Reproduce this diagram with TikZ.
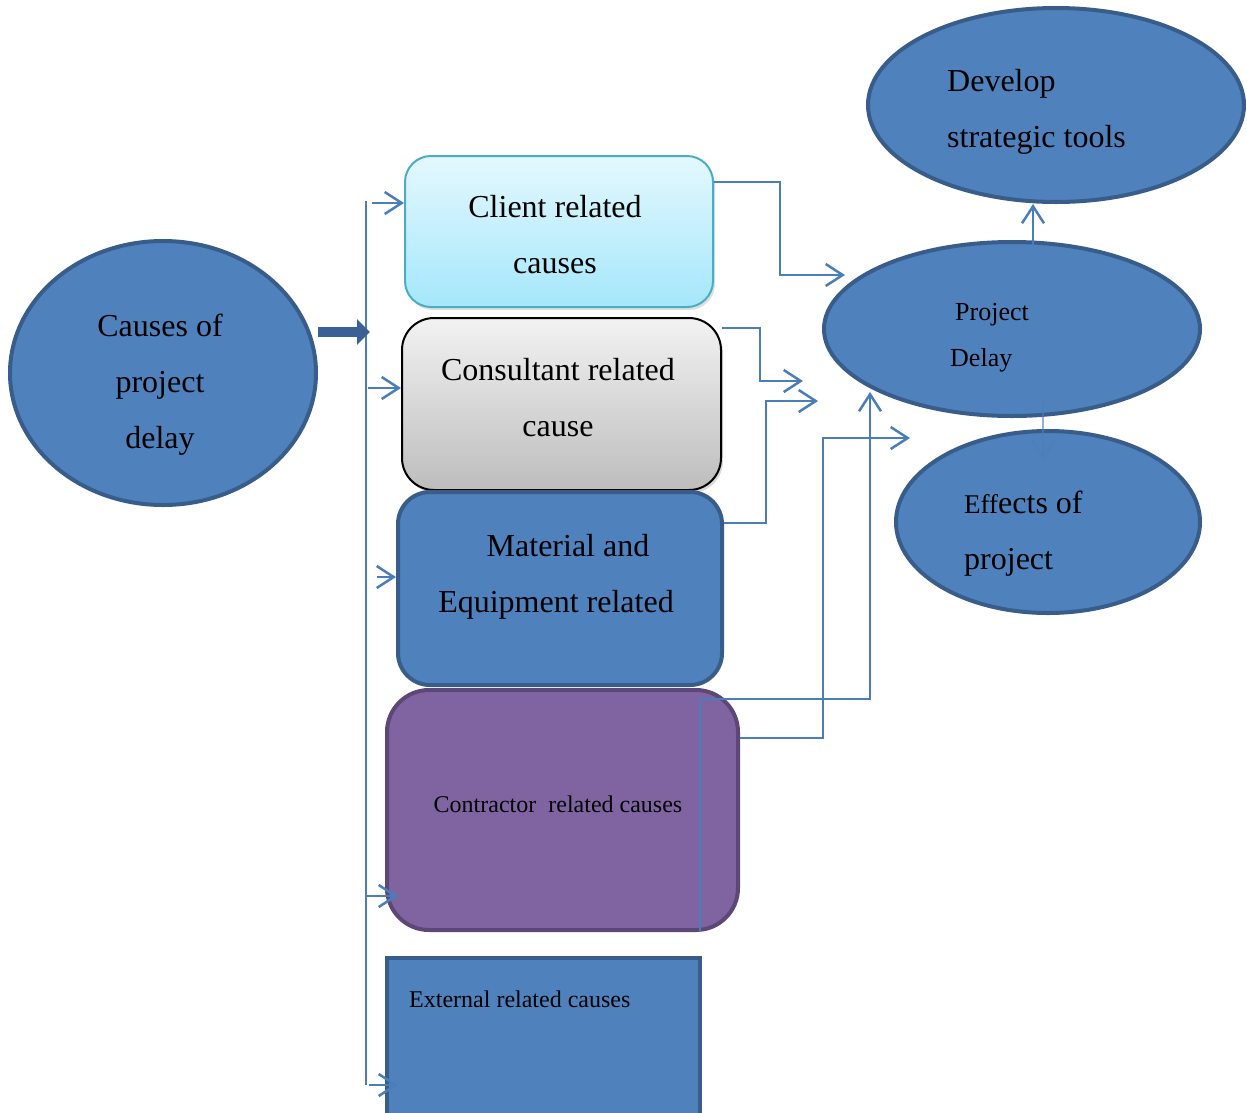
\documentclass[tikz,border=0pt]{standalone}
\usepackage{fontspec}
\setmainfont{Liberation Serif}
\usetikzlibrary{shapes.geometric,arrows.meta,shadows}
\definecolor{bfill}{HTML}{4F81BD}
\definecolor{bdraw}{HTML}{385D8A}
\definecolor{connc}{HTML}{4A7EBB}
\definecolor{pfill}{HTML}{8064A2}
\definecolor{pdraw}{HTML}{5C4776}
\definecolor{ctop}{HTML}{E4F8FE}
\definecolor{cbot}{HTML}{A5E7FB}
\definecolor{cdraw}{HTML}{4BACC6}
\definecolor{gtop}{HTML}{F2F2F2}
\definecolor{gbot}{HTML}{BDBDBD}
\definecolor{thickc}{HTML}{3A6096}
\begin{document}
\begin{tikzpicture}[x=1pt,y=-1pt,
  oval/.style={ellipse, draw=bdraw, fill=bfill, line width=4pt, inner sep=0pt},
  boxshape/.style={rectangle, inner sep=0pt},
  bigtxt/.style={inner sep=0pt, font=\fontsize{32}{56}\selectfont},
  midtxt/.style={inner sep=0pt, font=\fontsize{26}{46}\selectfont},
  smalltxt/.style={inner sep=0pt, font=\fontsize{24}{30}\selectfont},
  conn/.style={draw=connc, line width=2.5pt, -{Straight Barb[length=17pt,width=22pt,line width=2.5pt]}},
  busline/.style={draw=connc, line width=2.5pt},
  thickarrow/.style={draw=thickc, line width=10pt, -{Triangle[length=13pt,width=25pt]}}]
\useasboundingbox (0,0) rectangle (1247,1112);
% ellipses
\node[oval, minimum width=306pt, minimum height=264pt] (causes) at (163,373) {};
\node[oval, minimum width=376pt, minimum height=194pt] (develop) at (1056,105) {};
\node[oval, minimum width=376pt, minimum height=174pt] (delay) at (1012,329) {};
\node[oval, minimum width=304pt, minimum height=182pt] (effects) at (1048,522) {};
% boxes
\node[boxshape, rounded corners=26pt, draw=cdraw, line width=2pt, top color=ctop, bottom color=cbot,
  drop shadow={opacity=0.25, shadow xshift=2pt, shadow yshift=-3pt},
  minimum width=308pt, minimum height=151pt] (client) at (559,231.5) {};
\node[boxshape, rounded corners=32pt, draw=black, line width=2pt, top color=gtop, bottom color=gbot,
  drop shadow={opacity=0.3, shadow xshift=2pt, shadow yshift=-3pt},
  minimum width=319pt, minimum height=172pt] (consultant) at (561.5,404) {};
\node[boxshape, rounded corners=32pt, draw=bdraw, fill=bfill, line width=4pt,
  minimum width=324pt, minimum height=193pt] (material) at (560,588.5) {};
\node[boxshape, rounded corners=42pt, draw=pdraw, fill=pfill, line width=4pt,
  minimum width=351pt, minimum height=240pt] (contractor) at (562.5,810) {};
\node[boxshape, draw=bdraw, fill=bfill, line width=4pt,
  minimum width=313pt, minimum height=157pt] (external) at (543.5,1036.5) {};
% texts (base anchor = baseline of the last line)
\node[bigtxt, align=center, anchor=base] (causestext) at (160,448) {Causes of\\project\\delay};
\node[bigtxt, align=center, anchor=base] (clienttext) at (555,273) {Client related\\causes};
\node[bigtxt, align=center, anchor=base] (consultanttext) at (558,436) {Consultant related\\cause};
\node[bigtxt, align=center, anchor=base] (materialtext) at (556,612) {\hspace*{24pt}Material and\\Equipment related};
\node[smalltxt, anchor=base] (contractortext) at (558,812) {Contractor\ \ related causes};
\node[smalltxt, anchor=base west] (externaltext) at (409,1007) {External related causes};
\node[bigtxt, align=left, anchor=base west] (developtext) at (947,147) {Develop\\strategic tools};
\node[midtxt, anchor=base west] (projecttext) at (955,320) {Project};
\node[midtxt, anchor=base west] (delaytext) at (950,366) {Delay};
\node[bigtxt, align=left, anchor=base west] (effectstext) at (964,569) {{\fontsize{27}{56}\selectfont Eff}ects of\\project};
% bus and feeds
\coordinate (bustop) at (366,201);
\coordinate (busbot) at (366,1085);
\draw[busline] (bustop) -- (busbot);
\draw[thickarrow] (causes.east |- 0,332) -- (370,332);
\draw[conn] (372,203) -- (client.west |- 0,203);
\draw[conn] (368,388) -- (consultant.west |- 0,388);
\draw[conn] (377,577) -- (material.west |- 0,577);
\draw[conn] (bustop |- 0,896) -- (398,896);
\draw[conn] (369,1085) -- (398,1085);
% causes to project delay
\draw[conn] (client.east |- 0,182) -- (780,182) -- (780,275) -- (845,275);
\draw[conn] (consultant.east |- 0,328) -- (760,328) -- (760,381) -- (803,381);
\draw[conn] (material.east |- 0,523) -- (766,523) -- (766,401) -- (818,401);
\draw[conn] (contractor.south -| 700,0) -- (700,699) -- (870,699) -- (870,392);
\draw[conn] (contractor.east |- 0,738) -- (823,738) -- (823,438) -- (910,438);
% project delay outputs
\draw[conn] (1033,245) -- (develop.south -| 1033,0);
\draw[conn, draw opacity=0.6] (1043,402) -- (1043,460);
\end{tikzpicture}
\end{document}
